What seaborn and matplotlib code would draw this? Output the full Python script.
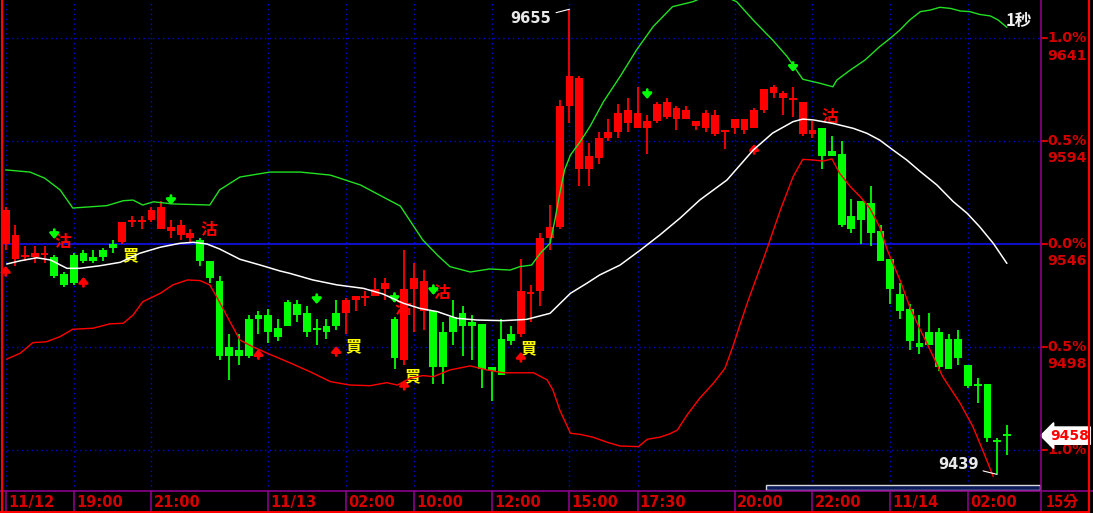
import matplotlib
matplotlib.use("Agg")
from matplotlib import pyplot as plt
from matplotlib.lines import Line2D
from matplotlib.patches import Rectangle
import numpy as np
import pandas
import seaborn as sns

# 15-minute candles
opens = [9546, 9539, 9540, 9540, 9541, 9540, 9532, 9541, 9542, 9540,
         9543, 9546, 9547, 9556, 9556, 9557, 9553, 9552, 9550, 9549,
         9548, 9538, 9529, 9498, 9497, 9511, 9513, 9513, 9507, 9519,
         9518, 9514, 9507, 9508, 9514, 9514, 9520, 9521, 9522, 9525,
         9511, 9492, 9525, 9515, 9515, 9505, 9512, 9514, 9510, 9509,
         9489, 9502, 9504, 9504, 9523, 9524, 9549, 9554, 9610, 9581,
         9581, 9586, 9595, 9598, 9602, 9600, 9600, 9603, 9605, 9604,
         9604, 9601, 9600, 9597, 9598, 9600, 9599, 9600, 9608, 9616,
         9614, 9613, 9597, 9597, 9600, 9589, 9588, 9559, 9566, 9565,
         9552, 9539, 9523, 9516, 9500, 9505, 9505, 9502, 9502, 9490,
         9481, 9481, 9455, 9458]
highs = [9563, 9555, 9545, 9545, 9545, 9541, 9533, 9542, 9543, 9543,
         9544, 9548, 9556, 9559, 9559, 9563, 9566, 9557, 9557, 9553,
         9549, 9538, 9531, 9504, 9504, 9513, 9515, 9516, 9511, 9520,
         9520, 9517, 9511, 9511, 9520, 9521, 9522, 9524, 9530, 9530,
         9512, 9543, 9537, 9534, 9515, 9510, 9520, 9517, 9513, 9509,
         9489, 9511, 9508, 9539, 9527, 9551, 9564, 9613, 9655, 9624,
         9593, 9598, 9604, 9611, 9614, 9619, 9606, 9612, 9614, 9610,
         9610, 9603, 9608, 9608, 9599, 9604, 9604, 9609, 9618, 9620,
         9617, 9619, 9612, 9603, 9600, 9596, 9594, 9567, 9566, 9573,
         9555, 9539, 9528, 9518, 9513, 9514, 9507, 9504, 9506, 9490,
         9484, 9481, 9456, 9462]
lows = [9543, 9536, 9538, 9537, 9537, 9530, 9526, 9527, 9537, 9537,
        9538, 9542, 9546, 9554, 9553, 9556, 9553, 9549, 9548, 9547,
        9536, 9528, 9492, 9483, 9490, 9493, 9504, 9500, 9501, 9508,
        9510, 9503, 9499, 9502, 9506, 9504, 9515, 9517, 9522, 9520,
        9488, 9490, 9505, 9506, 9481, 9481, 9499, 9494, 9492, 9479,
        9473, 9485, 9499, 9503, 9510, 9517, 9543, 9553, 9602, 9573,
        9573, 9583, 9594, 9595, 9598, 9600, 9588, 9602, 9604, 9599,
        9604, 9599, 9598, 9596, 9590, 9597, 9597, 9600, 9607, 9614,
        9606, 9605, 9596, 9595, 9581, 9587, 9554, 9551, 9546, 9545,
        9538, 9518, 9511, 9497, 9495, 9499, 9487, 9488, 9490, 9479,
        9472, 9454, 9439, 9448]
closes = [9562, 9550, 9541, 9542, 9541, 9531, 9527, 9528, 9538, 9538,
          9540, 9544, 9556, 9557, 9557, 9562, 9563, 9554, 9555, 9551,
          9538, 9530, 9494, 9494, 9494, 9494, 9511, 9505, 9503, 9508,
          9513, 9505, 9506, 9505, 9508, 9520, 9522, 9522, 9525, 9528,
          9493, 9525, 9530, 9529, 9489, 9489, 9505, 9508, 9508, 9488,
          9487, 9485, 9501, 9524, 9523, 9549, 9554, 9610, 9624, 9623,
          9587, 9595, 9598, 9607, 9608, 9607, 9603, 9611, 9612, 9609,
          9608, 9603, 9607, 9606, 9599, 9604, 9604, 9608, 9618, 9619,
          9616, 9613, 9612, 9599, 9587, 9587, 9555, 9553, 9557, 9551,
          9538, 9525, 9515, 9501, 9498, 9499, 9489, 9488, 9493, 9480,
          9480, 9456, 9454, 9457]

# Bollinger bands (candle index, price)
bb_up_x = [0, 2.5, 4.0, 5.6, 6.9, 8.5, 10.4, 12.1, 13.1, 14.1, 15.2, 17.2, 21.0, 22.0,
           24.1, 27.2, 30.3, 33.4, 36.5, 40.6, 42.9, 44.4, 45.7, 47.8, 49.8, 51.9, 52.9,
           54.1, 55.0, 56.0, 56.5, 57.0, 57.5, 58.1, 59.1, 60.1, 61.5, 63.2, 64.9, 66.6,
           68.6, 70.7, 73.0, 75.2, 76.9, 78.9, 80.4, 82.0, 83.8, 85.1, 85.5, 86.9, 88.4,
           89.9, 91.0, 92.0, 93.0, 94.1, 95.1, 96.1, 97.2, 98.2, 99.2, 100.2, 101.3,
           102.1, 103.0]
bb_up = [9580.4, 9579.4, 9576.6, 9571.1, 9562.7, 9563.2, 9563.8, 9566.1, 9566.4, 9564.1,
         9565.6, 9564.6, 9564.1, 9571.1, 9577.1, 9579.4, 9579.4, 9578.0, 9573.4, 9563.6,
         9547.9, 9540.9, 9535.5, 9533.0, 9534.4, 9533.9, 9535.5, 9536.2, 9541.7, 9546.3,
         9557.1, 9569.5, 9580.4, 9587.3, 9593.5, 9600.5, 9612.1, 9623.7, 9636.1, 9646.9,
         9656.2, 9658.5, 9663.0, 9658.5, 9650.0, 9640.7, 9633.0, 9622.5, 9620.6, 9619.0,
         9622.1, 9626.8, 9631.4, 9637.6, 9641.5, 9645.4, 9650.0, 9653.9, 9654.6, 9655.9,
         9655.4, 9654.2, 9653.9, 9652.6, 9651.9, 9650.0, 9646.6]
bb_mid_x = [0.1, 1.5, 3.2, 4.6, 6.3, 7.6, 9.7, 11.8, 13.8, 15.9, 17.9, 19.3, 20.7, 22.0,
            24.1, 26.2, 28.2, 29.2, 31.6, 34.1, 36.8, 38.8, 40.9, 42.6, 44.4, 46.4, 48.5,
            51.2, 53.6, 56.0, 58.1, 59.8, 61.1, 63.2, 65.3, 67.3, 69.4, 71.4, 74.2, 76.9,
            78.9, 81.0, 82.0, 83.1, 85.1, 87.2, 88.6, 89.9, 91.3, 92.7, 94.1, 95.8, 97.5,
            98.9, 100.2, 101.6, 103.0]
bb_mid = [9536.7, 9538.2, 9539.6, 9538.6, 9534.7, 9534.7, 9535.9, 9537.5, 9541.7, 9544.5,
          9546.3, 9546.8, 9546.0, 9543.7, 9538.9, 9536.2, 9533.5, 9532.4, 9529.3, 9527.0,
          9525.4, 9522.8, 9518.5, 9516.1, 9514.6, 9511.5, 9510.7, 9510.4, 9511.0, 9513.8,
          9523.1, 9527.8, 9531.6, 9536.2, 9543.2, 9550.2, 9558.1, 9566.4, 9575.7, 9589.6,
          9597.5, 9602.8, 9604.0, 9603.6, 9602.0, 9599.7, 9597.4, 9594.3, 9589.6, 9585.0,
          9579.6, 9573.4, 9565.6, 9560.3, 9554.0, 9546.3, 9537.0]
bb_low_x = [0.1, 1.5, 2.8, 4.2, 5.6, 6.9, 9.0, 10.7, 12.1, 13.1, 14.1, 15.9, 17.2, 18.7,
            20.0, 21.0, 21.7, 22.8, 24.1, 25.4, 26.9, 29.2, 31.3, 33.4, 35.4, 37.5, 39.2,
            40.3, 41.6, 42.9, 44.0, 45.7, 47.8, 49.5, 51.2, 54.3, 55.7, 56.3, 57.0, 58.1,
            59.1, 60.4, 61.9, 63.2, 65.1, 66.0, 67.3, 68.3, 69.1, 70.1, 71.4, 72.8, 74.0,
            74.8, 75.7, 76.4, 78.1, 79.7, 81.0, 82.0, 83.1, 84.1, 85.0, 85.8, 86.9, 87.9,
            88.9, 89.9, 90.7, 92.0, 93.0, 94.1, 95.1, 96.4, 98.2, 99.5, 100.5, 101.6]
bb_low = [9492.5, 9495.3, 9500.2, 9500.6, 9503.0, 9506.4, 9506.9, 9508.9, 9509.2, 9513.0,
          9519.2, 9523.1, 9527.0, 9529.3, 9529.0, 9527.0, 9521.5, 9512.2, 9501.4, 9498.3,
          9495.3, 9490.9, 9486.7, 9482.1, 9480.5, 9480.2, 9481.6, 9480.5, 9483.6, 9484.9,
          9484.4, 9487.5, 9489.4, 9487.5, 9486.2, 9486.2, 9482.9, 9478.2, 9468.9, 9458.1,
          9457.6, 9456.3, 9453.9, 9452.2, 9451.9, 9455.3, 9456.3, 9457.8, 9459.6, 9466.6,
          9474.4, 9481.3, 9488.3, 9498.3, 9510.7, 9520.0, 9540.9, 9561.8, 9577.2, 9585.3,
          9585.0, 9584.5, 9585.5, 9578.8, 9572.6, 9568.0, 9562.6, 9554.0, 9543.2, 9529.3,
          9516.9, 9506.1, 9496.8, 9484.4, 9472.0, 9461.2, 9450.4, 9438.0]

# signals
buy_x = [12.8, 35.8, 41.8, 53.8]
buy_y = [9540.9, 9498.6, 9484.7, 9497.7]
sell_x = [5.9, 20.9, 44.9, 84.8, 40.8]
sell_y = [9546.9, 9552.3, 9523.2, 9605.0, 9515.6]
up_arrow_x = [0, 8, 26, 34, 41, 53, 77]
up_arrow_tip = [9535.8, 9530.7, 9497.2, 9498.6, 9482.9, 9495.9, 9592.4]
down_arrow_x = [5, 17, 32, 40, 44, 66, 81]
down_arrow_tip = [9548.3, 9564.1, 9518.1, 9518.6, 9522.3, 9613.3, 9625.9]

# axes labels
base_price = 9546
pct_levels = [1.0, 0.5, 0.0, -0.5, -1.0]
pct_texts = ["1.0%", "0.5%", "0.0%", "0.5%", "1.0%"]
price_texts = ["9641", "9594", "9546", "9498", ""]
tick_pos = [0, 7, 15, 27, 35, 42, 50, 58, 65, 75, 83, 91, 99]
tick_labels = ["11/12", "19:00", "21:00", "11/13", "02:00", "10:00", "12:00",
               "15:00", "17:30", "20:00", "22:00", "11/14", "02:00"]

df = pandas.DataFrame({"open": opens, "high": highs, "low": lows, "close": closes})
df["idx"] = np.arange(len(df))

sns.set_theme(style="dark", rc={"axes.facecolor": "black", "figure.facecolor": "black"})
plt.rcParams["font.family"] = ["DejaVu Sans", "Noto Sans CJK TC"]
cjk = ["Noto Sans CJK TC", "DejaVu Sans"]

W, H = 1093, 513
fig = plt.figure(figsize=(W / 100, H / 100), dpi=100, facecolor="black")
ax = fig.add_axes([2 / W, 22 / H, 1039 / W, 491 / H])
ax.set_facecolor("black")
ax.set_xlim(-0.38, 106.51)
ax.set_ylim(9431.3, 9659.3)
ax.set_xticks([])
ax.set_yticks([])
for s in ax.spines.values():
    s.set_visible(False)

RED = "#FF0000"
GREEN = "#00FF00"
AXRED = "#D40000"
GRID = "#0000D8"
PURPLE = "#8A008A"

# grid
for p in pct_levels:
    lvl = base_price * (1 + p / 100)
    if p == 0:
        ax.axhline(lvl, color="#1010E0", lw=1.3, zorder=1)
    else:
        ax.axhline(lvl, color=GRID, lw=1, ls=(0, (1, 2.5)), zorder=1)
for t in tick_pos:
    ax.axvline(t, color=GRID, lw=1, ls=(0, (1, 2.5)), zorder=1)

# signal texts (under candles)
for x, y in zip(buy_x, buy_y):
    ax.text(x, y, "買", color="#FFFF00", fontsize=11.5, fontweight="bold",
            family=cjk, ha="center", va="center", zorder=2)
for x, y in zip(sell_x, sell_y):
    ax.text(x, y, "沽", color=RED, fontsize=12, fontweight="bold",
            family=cjk, ha="center", va="center", zorder=2)
arrow_style = "-|>,head_length=0.35,head_width=0.3"
for x, y in zip(up_arrow_x, up_arrow_tip):
    ax.annotate("", xy=(x, y), xytext=(x, y - 4.4),
                arrowprops=dict(arrowstyle=arrow_style, color=RED,
                                lw=2, mutation_scale=9, shrinkA=0, shrinkB=0), zorder=2)
for x, y in zip(down_arrow_x, down_arrow_tip):
    ax.annotate("", xy=(x, y), xytext=(x, y + 4.4),
                arrowprops=dict(arrowstyle=arrow_style, color=GREEN,
                                lw=2, mutation_scale=9, shrinkA=0, shrinkB=0), zorder=2)

# candles
cols = np.where(df["close"] >= df["open"], RED, GREEN)
ax.vlines(df["idx"], df["low"], df["high"], colors=cols, lw=1.3, zorder=3)
body_bottom = np.minimum(df["open"], df["close"])
body_h = np.maximum((df["close"] - df["open"]).abs(), 0.75)
ax.bar(df["idx"], body_h, bottom=body_bottom, width=0.8, color=cols, linewidth=0, zorder=4)

# bands
sns.lineplot(x=bb_up_x, y=bb_up, ax=ax, color="#22E022", lw=1, sort=False, estimator=None, zorder=5)
sns.lineplot(x=bb_mid_x, y=bb_mid, ax=ax, color="white", lw=1.1, sort=False, estimator=None, zorder=5)
sns.lineplot(x=bb_low_x, y=bb_low, ax=ax, color=RED, lw=1, sort=False, estimator=None, zorder=5)

# high / low markers
hi_i = int(np.argmax(highs))
lo_i = int(np.argmin(lows))
ax.annotate(str(highs[hi_i]), xy=(hi_i, highs[hi_i]), xytext=(-13, -7), textcoords="offset points",
            color="#E8E8E8", fontsize=10.5, fontweight="bold", ha="right", va="center",
            arrowprops=dict(arrowstyle="-", color="white", lw=0.8, shrinkA=1, shrinkB=0), zorder=6)
ax.annotate(str(lows[lo_i]), xy=(lo_i, lows[lo_i]), xytext=(-13.5, 7), textcoords="offset points",
            color="#E8E8E8", fontsize=10.5, fontweight="bold", ha="right", va="center",
            arrowprops=dict(arrowstyle="-", color="white", lw=0.8, shrinkA=1, shrinkB=0), zorder=6)
ax.text(0.979, 0.958, "1秒", transform=ax.transAxes, color="#F0F0F0", fontsize=12,
        fontweight="bold", family=cjk, ha="center", va="center")

# right axis labels
ytr = ax.get_yaxis_transform()
for p, pt, prt in zip(pct_levels, pct_texts, price_texts):
    lvl = base_price * (1 + p / 100)
    ax.plot([1.0006, 1.0055], [lvl, lvl], transform=ytr, color=AXRED, lw=1.5, clip_on=False)
    ax.text(1.0058, lvl, pt, transform=ytr, color=AXRED, fontsize=10.2, fontweight="bold",
            ha="left", va="center", clip_on=False)
    if prt:
        ax.annotate(prt, xy=(1.0058, lvl), xycoords=ytr, xytext=(0, -12.3),
                    textcoords="offset points", color=AXRED, fontsize=10.2, fontweight="bold",
                    ha="left", va="center", annotation_clip=False)
last = closes[-1]
ax.text(1.0085, last, str(int(round(last + 0.5))), transform=ytr, color=RED, fontsize=10,
        fontweight="bold", ha="left", va="center", clip_on=False,
        bbox=dict(boxstyle="larrow,pad=0.12", fc="white", ec="white"))

# bottom time axis
xtr = ax.get_xaxis_transform()
for t, lab in zip(tick_pos, tick_labels):
    ax.plot([t, t], [-22 / 491, 0], transform=xtr, color=PURPLE, lw=1.2, clip_on=False)
    ax.text(t + 0.22, -11.5 / 491, lab, transform=xtr, color=AXRED, fontsize=10.5,
            fontweight="bold", ha="left", va="center", clip_on=False)
fig.text(1062 / W, 1 - 502 / H, "15分", color=AXRED, fontsize=11, fontweight="bold",
         family=cjk, ha="center", va="center")

# frame lines
fig.add_artist(Line2D([0, 1], [1 - 491 / H] * 2, color=PURPLE, lw=1.2))
fig.add_artist(Line2D([1041 / W] * 2, [0, 1], color=PURPLE, lw=1.2))
fig.add_artist(Line2D([1.5 / W] * 2, [0, 1], color=RED, lw=1.5))
fig.add_artist(Line2D([0, 1089 / W], [1.5 / H] * 2, color=RED, lw=1.5))
fig.add_artist(Line2D([1088.5 / W] * 2, [0, 1], color=RED, lw=1.5))
fig.add_artist(Rectangle((766 / W, 1 - 490 / H), 274 / W, 5 / H, transform=fig.transFigure,
                         fc="#0a1a5a", ec="#d8d8d8", lw=1))

fig.savefig("out.png", dpi=100, facecolor="black")
